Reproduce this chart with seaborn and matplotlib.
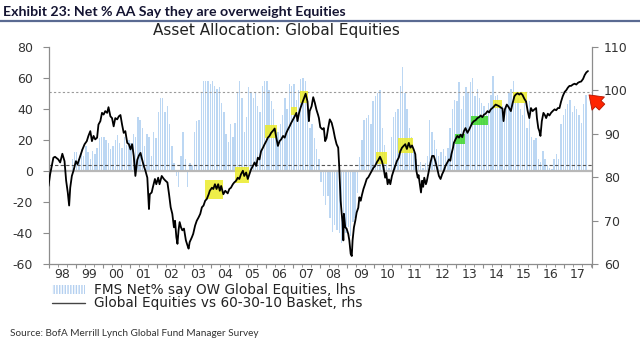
import numpy as np
import pandas as pd
import matplotlib
matplotlib.use("Agg")
import matplotlib.pyplot as plt
import seaborn as sns
from matplotlib.patches import Rectangle, FancyArrowPatch
from matplotlib.lines import Line2D

# ---------------- data ----------------
fms_start = "1998-11"
fms_values = [
    8, 12,
    12, 8, 14, 10, 16, 12, 8, 13, 11, 15, 21, 22,          # 1999
    22, 20, 18, 14, 16, 20, 23, 18, 15, 22, 17, 20,        # 2000
    18, 24, 22, 35, 33, 28, 16, 24, 22, 10, 25, 21,        # 2001
    38, 47, 47, 38, 42, 30, 16, 5, -3, -10, 10, 25,        # 2002
    8, -10, 5, 4, 25, 32, 33, 50, 58, 58, 58, 56,          # 2003
    58, 55, 53, 54, 44, 38, 24, 19, 30, 22, 31, 50,        # 2004
    58, 47, 25, 35, 54, 50, 47, 50, 42, 38, 55, 58,        # 2005
    58, 52, 45, 40, 28, 25, 30, 36, 47, 40, 56, 55,        # 2006
    56, 46, 52, 59, 60, 58, 45, 28, 30, 21, 14, 8,         # 2007
    -7, -16, -22, -16, -30, -39, -35, -38, -40, -46, -42, -40,  # 2008
    -36, -42, -33, -30, -14, 9, 20, 33, 34, 36, 30, 45,    # 2009
    48, 50, 52, 28, 17, 5, 2, 22, 35, 38, 40, 55,          # 2010
    67, 50, 40, 28, 22, 12, 8, 3, 6, 2, 5, 10,             # 2011
    33, 25, 20, 14, 10, 12, 14, 10, 15, 28, 40, 46,        # 2012
    45, 57, 40, 48, 54, 50, 57, 60, 48, 53, 47, 44,        # 2013
    42, 36, 44, 49, 61, 48, 49, 44, 42, 40, 41, 50,        # 2014
    53, 58, 50, 47, 40, 36, 44, 28, 45, 22, 20, 21,        # 2015
    8, 6, 13, 8, 4, 2, 1, 8, 11, 8, 30, 36,                # 2016
    40, 43, 46, 38, 42, 40, 36, 31, 43, 49,                # 2017
]

line_dates = [
    1998.00, 1998.06, 1998.18, 1998.24, 1998.36, 1998.43, 1998.51, 1998.59, 1998.65, 1998.71,
    1998.76, 1998.80, 1998.86, 1998.92, 1999.01, 1999.07, 1999.17, 1999.25, 1999.33, 1999.41,
    1999.47, 1999.54, 1999.60, 1999.66, 1999.72, 1999.79, 1999.84, 1999.91, 1999.97, 2000.03,
    2000.09, 2000.16, 2000.21, 2000.28, 2000.34, 2000.40, 2000.46, 2000.53, 2000.59, 2000.65,
    2000.71, 2000.77, 2000.83, 2000.90, 2000.96, 2001.02, 2001.08, 2001.14, 2001.20, 2001.27,
    2001.33, 2001.39, 2001.43, 2001.51, 2001.57, 2001.64, 2001.70, 2001.73, 2001.80, 2001.84,
    2001.92, 2001.97, 2002.04, 2002.09, 2002.17, 2002.25, 2002.31, 2002.38, 2002.44, 2002.50,
    2002.56, 2002.62, 2002.66, 2002.71, 2002.75, 2002.79, 2002.83, 2002.88, 2002.93, 2002.99,
    2003.06, 2003.12, 2003.16, 2003.20, 2003.28, 2003.33, 2003.40, 2003.46, 2003.53, 2003.59,
    2003.65, 2003.71, 2003.77, 2003.83, 2003.90, 2003.94, 2004.02, 2004.07, 2004.13, 2004.19,
    2004.25, 2004.31, 2004.36, 2004.44, 2004.51, 2004.60, 2004.66, 2004.72, 2004.79, 2004.84,
    2004.91, 2004.97, 2005.03, 2005.09, 2005.16, 2005.21, 2005.28, 2005.34, 2005.40, 2005.46,
    2005.53, 2005.59, 2005.65, 2005.71, 2005.77, 2005.83, 2005.90, 2005.96, 2006.02, 2006.08,
    2006.14, 2006.20, 2006.27, 2006.33, 2006.39, 2006.45, 2006.51, 2006.57, 2006.64, 2006.70,
    2006.76, 2006.82, 2006.88, 2006.94, 2007.01, 2007.07, 2007.13, 2007.17, 2007.23, 2007.28,
    2007.35, 2007.41, 2007.47, 2007.54, 2007.59, 2007.62, 2007.69, 2007.75, 2007.81, 2007.87,
    2007.93, 2007.96, 2008.01, 2008.09, 2008.14, 2008.19, 2008.24, 2008.30, 2008.36, 2008.43,
    2008.49, 2008.55, 2008.61, 2008.67, 2008.71, 2008.76, 2008.80, 2008.83, 2008.86, 2008.88,
    2008.93, 2008.98, 2009.04, 2009.08, 2009.13, 2009.17, 2009.20, 2009.25, 2009.30, 2009.35,
    2009.41, 2009.45, 2009.50, 2009.54, 2009.60, 2009.66, 2009.72, 2009.78, 2009.84, 2009.91,
    2009.97, 2010.03, 2010.09, 2010.16, 2010.21, 2010.28, 2010.34, 2010.40, 2010.44, 2010.49,
    2010.54, 2010.59, 2010.65, 2010.71, 2010.77, 2010.83, 2010.90, 2010.96, 2011.02, 2011.08,
    2011.14, 2011.20, 2011.27, 2011.33, 2011.39, 2011.45, 2011.51, 2011.55, 2011.60, 2011.63,
    2011.67, 2011.72, 2011.76, 2011.80, 2011.84, 2011.90, 2011.93, 2011.97, 2012.02, 2012.07,
    2012.13, 2012.19, 2012.25, 2012.31, 2012.38, 2012.44, 2012.50, 2012.56, 2012.62, 2012.69,
    2012.75, 2012.80, 2012.84, 2012.90, 2012.93, 2012.99, 2013.06, 2013.12, 2013.18, 2013.24,
    2013.30, 2013.36, 2013.43, 2013.49, 2013.55, 2013.61, 2013.67, 2013.73, 2013.80, 2013.86,
    2013.92, 2013.98, 2014.04, 2014.10, 2014.17, 2014.23, 2014.29, 2014.35, 2014.41, 2014.47,
    2014.54, 2014.60, 2014.66, 2014.72, 2014.76, 2014.81, 2014.88, 2014.94, 2015.03, 2015.09,
    2015.16, 2015.21, 2015.28, 2015.34, 2015.40, 2015.46, 2015.53, 2015.59, 2015.65, 2015.71,
    2015.77, 2015.83, 2015.90, 2015.96, 2015.99, 2016.04, 2016.08, 2016.12, 2016.17, 2016.23,
    2016.29, 2016.33, 2016.39, 2016.45, 2016.51, 2016.57, 2016.64, 2016.70, 2016.76, 2016.82,
    2016.88, 2016.94, 2017.01, 2017.07, 2017.13, 2017.19, 2017.25, 2017.31, 2017.38, 2017.44,
    2017.50, 2017.56, 2017.62, 2017.69, 2017.75, 2017.81, 2017.87,
]
line_values = [
    78.0, 80.7, 84.5, 84.7, 84.1, 83.4, 85.4, 83.7, 79.2, 76.5,
    73.5, 77.6, 80.3, 81.5, 83.7, 83.0, 84.9, 86.4, 87.6, 88.3,
    89.5, 90.6, 88.3, 89.5, 88.7, 89.1, 92.1, 92.9, 94.8, 94.4,
    95.2, 94.8, 96.1, 94.0, 93.6, 91.7, 93.6, 93.3, 94.0, 94.3,
    92.1, 90.2, 90.6, 87.9, 87.6, 86.4, 87.6, 84.9, 80.3, 84.0,
    85.0, 85.6, 84.5, 82.6, 81.5, 79.9, 72.7, 76.1, 76.5, 77.6,
    79.6, 78.4, 79.9, 78.4, 80.3, 79.6, 79.2, 78.8, 76.1, 73.1,
    71.6, 68.5, 70.0, 66.2, 64.7, 67.8, 69.7, 68.5, 67.8, 68.2,
    65.5, 64.3, 63.6, 65.1, 66.2, 67.0, 68.9, 70.0, 70.8, 71.6,
    73.1, 73.5, 74.6, 75.0, 76.1, 76.9, 77.6, 77.3, 78.4, 77.3,
    78.4, 76.9, 78.0, 76.1, 76.9, 76.3, 77.3, 77.6, 78.4, 78.8,
    79.2, 79.9, 79.6, 80.7, 81.5, 80.3, 81.1, 79.6, 80.7, 81.8,
    82.6, 83.4, 82.6, 84.5, 84.1, 86.0, 86.8, 87.6, 88.3, 89.1,
    89.5, 90.2, 90.7, 91.2, 89.1, 87.2, 88.3, 88.7, 89.5, 89.1,
    90.2, 91.0, 91.7, 92.5, 93.3, 94.0, 94.8, 92.9, 94.8, 95.9,
    97.1, 98.2, 99.2, 97.4, 92.9, 95.2, 96.3, 98.4, 97.1, 95.5,
    94.3, 93.6, 91.5, 91.0, 91.3, 88.3, 89.0, 91.3, 93.3, 92.5,
    91.0, 89.1, 87.6, 86.8, 82.2, 74.6, 71.6, 69.7, 65.5, 71.6,
    68.5, 68.2, 67.0, 65.5, 62.4, 61.9, 65.5, 68.5, 70.0, 71.9,
    73.0, 75.4, 74.6, 75.8, 77.3, 78.4, 79.6, 80.0, 80.7, 81.5,
    82.2, 82.6, 83.4, 84.1, 84.7, 83.7, 82.2, 79.9, 81.0, 78.4,
    79.5, 78.4, 80.3, 81.5, 82.6, 83.7, 84.5, 86.0, 86.8, 87.2,
    87.6, 86.5, 87.9, 86.8, 87.3, 86.4, 85.3, 81.5, 79.9, 80.5,
    78.8, 76.5, 79.2, 77.8, 79.9, 78.4, 79.0, 80.3, 81.8, 83.4,
    84.9, 84.9, 83.7, 82.2, 80.3, 79.6, 80.7, 81.5, 82.6, 83.4,
    84.1, 83.8, 85.3, 86.8, 87.9, 88.7, 89.5, 89.1, 89.8, 89.2,
    90.6, 91.3, 90.2, 90.9, 91.7, 92.5, 92.9, 93.1, 93.6, 93.8,
    94.2, 93.8, 94.4, 94.6, 95.2, 94.9, 95.6, 95.9, 96.3, 96.7,
    96.5, 96.3, 96.0, 95.8, 92.9, 95.6, 96.7, 96.2, 95.2, 96.9,
    98.6, 99.0, 99.3, 99.0, 99.3, 98.9, 98.0, 97.4, 95.2, 93.6,
    95.9, 95.2, 95.6, 95.9, 93.6, 91.3, 90.6, 89.5, 92.9, 94.8,
    94.2, 93.6, 94.6, 94.2, 94.8, 95.2, 95.6, 95.4, 95.9, 95.9,
    97.4, 98.6, 99.6, 100.0, 100.6, 101.0, 101.0, 101.3, 101.5, 101.3,
    101.7, 101.9, 102.0, 102.6, 103.5, 104.1, 104.4,
]

year_labels = ["98", "99", "00", "01", "02", "03", "04", "05", "06", "07",
               "08", "09", "10", "11", "12", "13", "14", "15", "16", "17"]
left_ticks = [-60, -40, -20, 0, 20, 40, 60, 80]
right_ticks = [60, 70, 80, 90, 100, 110]
upper_band = 50.8
lower_band = 4.1

# highlighted periods: (start, end, low, high, colour) on the rhs scale
highlights = [
    (2003.77, 2004.44, 75.1, 79.3, "y"),
    (2004.88, 2005.38, 78.6, 82.4, "y"),
    (2005.98, 2006.40, 89.0, 92.0, "y"),
    (2006.93, 2007.17, 94.4, 96.1, "y"),
    (2007.26, 2007.54, 97.1, 99.9, "y"),
    (2010.06, 2010.48, 83.1, 85.8, "y"),
    (2010.87, 2011.43, 85.6, 89.1, "y"),
    (2012.99, 2013.34, 87.6, 90.0, "g"),
    (2013.57, 2014.17, 92.0, 94.0, "g"),
    (2014.38, 2014.70, 95.8, 97.8, "y"),
    (2015.12, 2015.61, 97.1, 99.7, "y"),
]

# ---------------- style ----------------
sns.set_theme(style="white")
plt.rcParams["font.family"] = ["DejaVu Sans"]
plt.rcParams["axes.unicode_minus"] = False

W, H = 640, 353
fig = plt.figure(figsize=(W / 100, H / 100), dpi=100)
ax = fig.add_axes([48.5 / W, (H - 264.3) / H, (591.5 - 48.5) / W, (264.3 - 46.7) / H])

spine_c = "#8c8c8c"
txt_c = "#333333"

months = pd.period_range(fms_start, periods=len(fms_values), freq="M")
fms_x = np.asarray(months.year + (months.month - 0.5) / 12.0, dtype=float)
df_bar = pd.DataFrame({"x": fms_x, "v": fms_values})
sns.barplot(data=df_bar, x="x", y="v", native_scale=True, color="#bcd7f3",
            saturation=1, width=0.62, errorbar=None, ax=ax, linewidth=0, zorder=1)

ax.axhline(0, color="#b8b8b8", lw=1.6, zorder=2)
ax.axhline(upper_band, color="#9a9a9a", lw=0.8, ls=(0, (2, 2)), zorder=2)
ax.axhline(lower_band, color="#555555", lw=0.8, ls=(0, (3, 2)), zorder=2)

ax.set_ylim(-60, 80)
ax.set_yticks(left_ticks)
ax.set_ylabel("")
ax.set_xlabel("")

ax2 = ax.twinx()
colours = {"y": "#ecec2a", "g": "#3fd62a"}
for (x0, x1, lo, hi, c) in highlights:
    ax2.add_patch(Rectangle((x0, lo), x1 - x0, hi - lo, fc=colours[c], ec="none",
                            alpha=0.85, zorder=1))
sns.lineplot(x=line_dates, y=line_values, ax=ax2, color="black", lw=1.3,
             zorder=3, sort=False)
ax2.set_ylim(60, 110)
ax2.set_yticks(right_ticks)
ax2.set_ylabel("")

ax.set_xlim(1998, 2018)
ax.set_xticks(np.arange(1998, 2019), labels=[""] * 21)
ax.set_xticks(np.arange(1998, 2018) + 0.5, labels=year_labels, minor=True)
ax.tick_params(axis="x", which="major", bottom=True, length=3, width=0.8, color=spine_c)
ax.tick_params(axis="x", which="minor", bottom=True, length=0, pad=3,
               labelsize=9, labelcolor=txt_c)
ax.tick_params(axis="y", left=True, length=4, width=0.8, color=spine_c, pad=7,
               labelsize=9, labelcolor=txt_c)
ax2.tick_params(axis="y", right=True, length=4, width=0.8, color=spine_c, pad=5,
                labelsize=9, labelcolor=txt_c)

sec = ax.secondary_xaxis("bottom")
sec.set_xticks(np.arange(1998, 2018.001, 1 / 3))
sec.tick_params(length=2, width=0.6, color=spine_c, labelbottom=False)
sec.spines["bottom"].set_visible(False)

for s in ["top", "right"]:
    ax.spines[s].set_visible(False)
for s in ["left", "bottom"]:
    ax.spines[s].set_color(spine_c)
    ax.spines[s].set_linewidth(0.9)
for s in ["top", "left", "bottom"]:
    ax2.spines[s].set_visible(False)
ax2.spines["right"].set_color(spine_c)
ax2.spines["right"].set_linewidth(0.9)

# ---------------- texts ----------------
fig.text(3 / W, 1 - 11.5 / H, "Exhibit 23: Net % AA Say they are overweight Equities",
         fontsize=10.2, fontweight="bold", color="#141432", va="center", ha="left",
         family=["Lato", "DejaVu Sans"])
fig.add_artist(Line2D([0, 1], [1 - 21 / H, 1 - 21 / H], transform=fig.transFigure,
                      color="#5a6a92", lw=1.6))
fig.text(276 / W, 1 - 30 / H, "Asset Allocation: Global Equities", fontsize=11,
         color="#222222", ha="center", va="center")

bar_handle = Rectangle((0, 0), 1, 1, fc="white", ec="#b4d0f0", hatch="||||||", lw=0)
line_handle = Line2D([], [], color="#444444", lw=1.0)
fig.legend([bar_handle, line_handle],
           ["FMS Net% say OW Global Equities, lhs",
            "Global Equities vs 60-30-10 Basket, rhs"],
           loc="upper left", bbox_to_anchor=(52 / W, 1 - 283 / H),
           frameon=False, fontsize=9.8, handlelength=2.4, handleheight=0.6,
           handletextpad=0.7, labelspacing=-0.05, borderpad=0, borderaxespad=0,
           labelcolor="#222222")

fig.text(10 / W, 1 - 334 / H, "Source: BofA Merrill Lynch Global Fund Manager Survey",
         fontsize=7.2, color="#333333", ha="left", va="center",
         family=["Lato", "DejaVu Sans"])

arrow = FancyArrowPatch((604 / W, 1 - 109 / H), (587 / W, 1 - 93 / H),
                        transform=fig.transFigure,
                        arrowstyle="simple,head_length=0.7,head_width=1.0,tail_width=0.45",
                        mutation_scale=13, fc="#ff2400", ec="#b31500", lw=0.6)
fig.add_artist(arrow)

fig.savefig("out.png", dpi=100)
